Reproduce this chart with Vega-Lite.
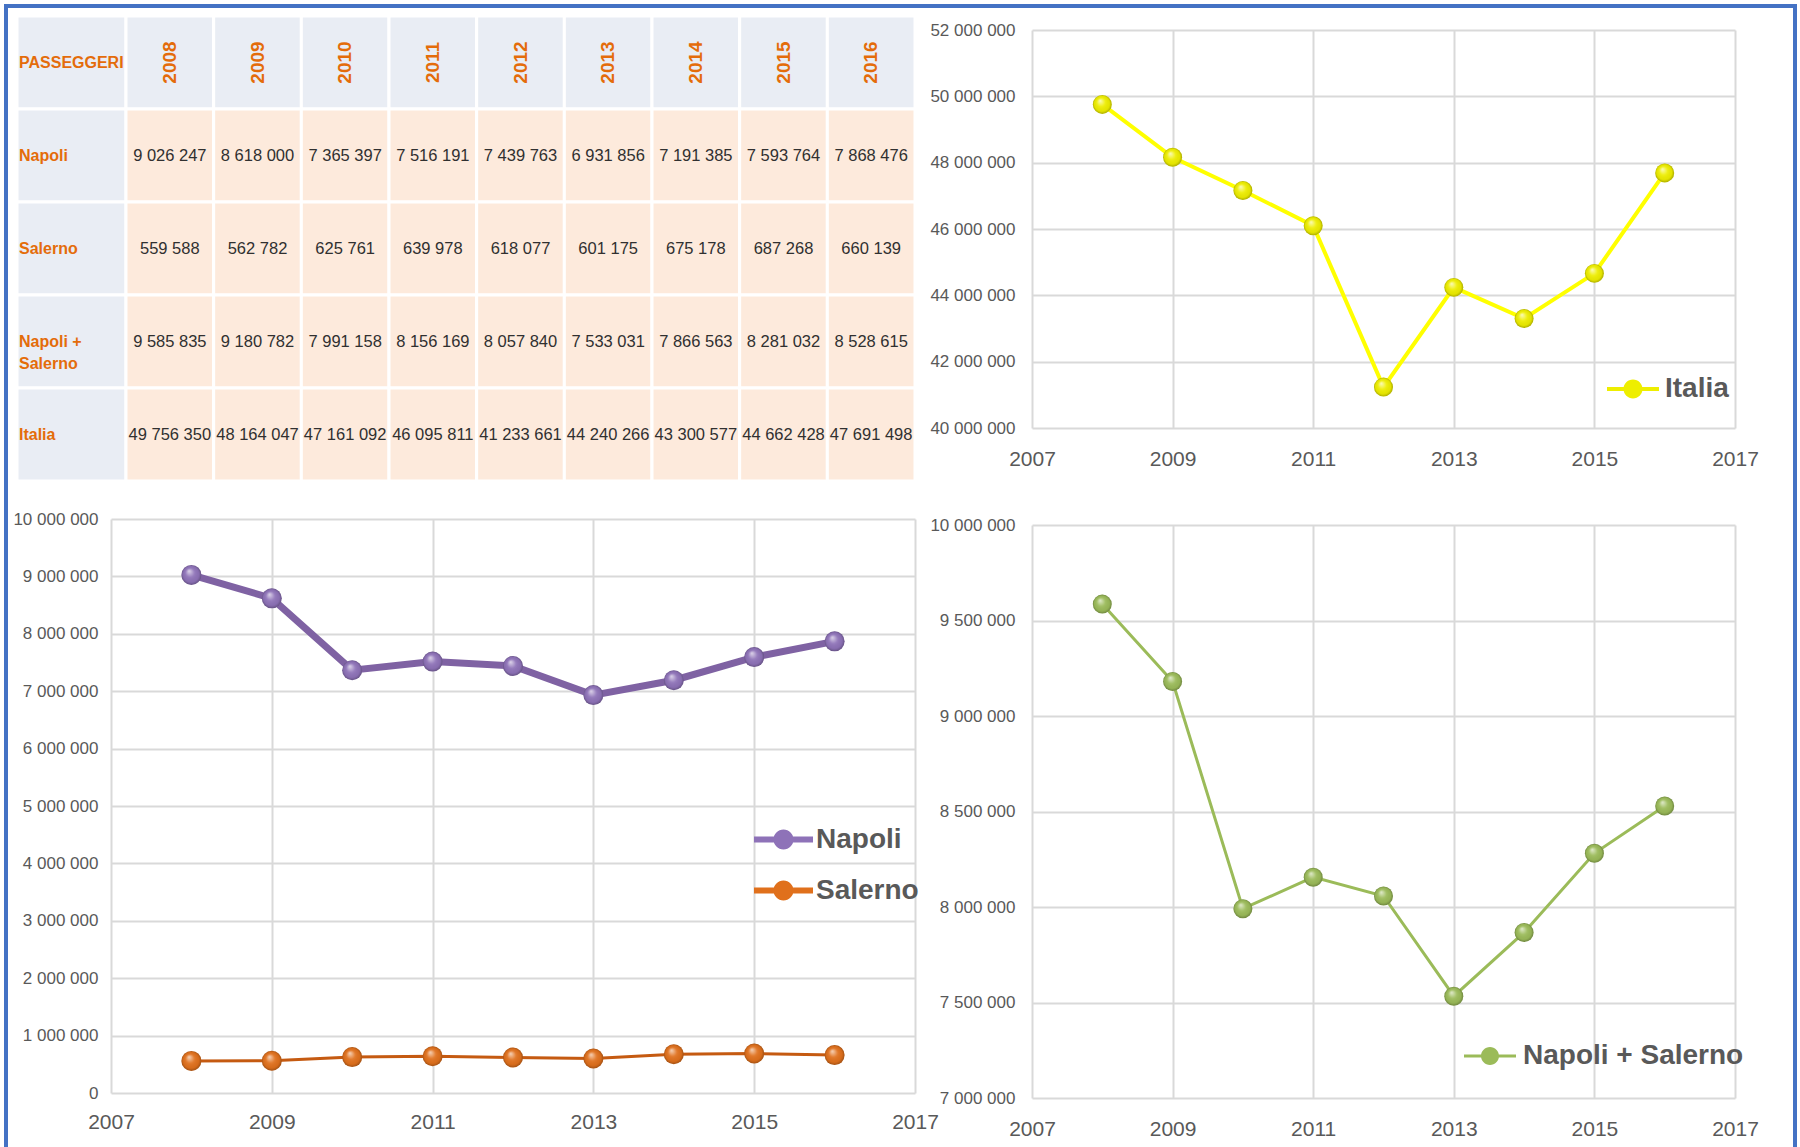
{
  "$schema": "https://vega.github.io/schema/vega-lite/v6.json",
  "width": 1789,
  "height": 1144,
  "autosize": {"type": "none"},
  "padding": {"left": 6, "top": 6, "right": 5, "bottom": 0},
  "background": "white",
  "config": {
    "view": {"stroke": "#4472C4", "strokeWidth": 4},
    "locale": {"number": {"decimal": ",", "thousands": " ", "grouping": [3], "currency": ["", " €"]}},
    "axis": {"labelFont": "Liberation Sans", "labelColor": "#595959", "gridColor": "#D9D9D9", "gridWidth": 2, "domain": false, "ticks": false, "tickSize": 0, "labelFlush": false, "labelOverlap": false},
    "legend": {"padding": 0, "offset": 0, "labelFont": "Liberation Sans", "labelFontWeight": "bold", "labelFontSize": 28, "labelColor": "#595959", "labelLimit": 400}
  },
  "datasets": {
    "passeggeri": [
      {"anno": 2008, "serie": "Napoli", "valore": 9026247},
      {"anno": 2009, "serie": "Napoli", "valore": 8618000},
      {"anno": 2010, "serie": "Napoli", "valore": 7365397},
      {"anno": 2011, "serie": "Napoli", "valore": 7516191},
      {"anno": 2012, "serie": "Napoli", "valore": 7439763},
      {"anno": 2013, "serie": "Napoli", "valore": 6931856},
      {"anno": 2014, "serie": "Napoli", "valore": 7191385},
      {"anno": 2015, "serie": "Napoli", "valore": 7593764},
      {"anno": 2016, "serie": "Napoli", "valore": 7868476},
      {"anno": 2008, "serie": "Salerno", "valore": 559588},
      {"anno": 2009, "serie": "Salerno", "valore": 562782},
      {"anno": 2010, "serie": "Salerno", "valore": 625761},
      {"anno": 2011, "serie": "Salerno", "valore": 639978},
      {"anno": 2012, "serie": "Salerno", "valore": 618077},
      {"anno": 2013, "serie": "Salerno", "valore": 601175},
      {"anno": 2014, "serie": "Salerno", "valore": 675178},
      {"anno": 2015, "serie": "Salerno", "valore": 687268},
      {"anno": 2016, "serie": "Salerno", "valore": 660139},
      {"anno": 2008, "serie": "Napoli + Salerno", "valore": 9585835},
      {"anno": 2009, "serie": "Napoli + Salerno", "valore": 9180782},
      {"anno": 2010, "serie": "Napoli + Salerno", "valore": 7991158},
      {"anno": 2011, "serie": "Napoli + Salerno", "valore": 8156169},
      {"anno": 2012, "serie": "Napoli + Salerno", "valore": 8057840},
      {"anno": 2013, "serie": "Napoli + Salerno", "valore": 7533031},
      {"anno": 2014, "serie": "Napoli + Salerno", "valore": 7866563},
      {"anno": 2015, "serie": "Napoli + Salerno", "valore": 8281032},
      {"anno": 2016, "serie": "Napoli + Salerno", "valore": 8528615},
      {"anno": 2008, "serie": "Italia", "valore": 49756350},
      {"anno": 2009, "serie": "Italia", "valore": 48164047},
      {"anno": 2010, "serie": "Italia", "valore": 47161092},
      {"anno": 2011, "serie": "Italia", "valore": 46095811},
      {"anno": 2012, "serie": "Italia", "valore": 41233661},
      {"anno": 2013, "serie": "Italia", "valore": 44240266},
      {"anno": 2014, "serie": "Italia", "valore": 43300577},
      {"anno": 2015, "serie": "Italia", "valore": 44662428},
      {"anno": 2016, "serie": "Italia", "valore": 47691498}
    ],
    "righe": [
      {"riga": "PASSEGGERI", "testo": "PASSEGGERI"},
      {"riga": "Napoli", "testo": "Napoli"},
      {"riga": "Salerno", "testo": "Salerno"},
      {"riga": "Napoli + Salerno", "testo": "Napoli +\nSalerno"},
      {"riga": "Italia", "testo": "Italia"}
    ]
  },
  "layer": [
    {
      "layer": [
        {
          "data": {"name": "righe"},
          "layer": [
            {
              "mark": {"type": "rect", "fill": "#E9EDF4", "stroke": "white", "strokeWidth": 3},
              "encoding": {
                "x": {"datum": "etichette", "type": "nominal", "scale": {"type": "band", "domain": ["etichette"], "range": [11, 120], "paddingInner": 0, "paddingOuter": 0}, "axis": null},
                "y": {"field": "riga", "type": "nominal", "scale": {"type": "band", "domain": ["PASSEGGERI", "Napoli", "Salerno", "Napoli + Salerno", "Italia"], "range": [10, 475], "paddingInner": 0, "paddingOuter": 0}, "axis": null}
              }
            },
            {
              "mark": {"type": "text", "align": "left", "dx": 2, "font": "Liberation Sans", "fontWeight": "bold", "fontSize": 16, "color": "#E46C0A", "lineBreak": "\n", "lineHeight": 22},
              "encoding": {
                "x": {"datum": "etichette", "type": "nominal", "bandPosition": 0, "axis": null},
                "y": {"field": "riga", "type": "nominal", "axis": null},
                "text": {"field": "testo", "type": "nominal"}
              }
            }
          ]
        },
        {
          "data": {"name": "passeggeri"},
          "layer": [
            {
              "transform": [{"filter": "datum.serie === 'Napoli'"}],
              "mark": {"type": "rect", "fill": "#E9EDF4", "stroke": "white", "strokeWidth": 3},
              "encoding": {
                "x": {"field": "anno", "type": "ordinal", "scale": {"type": "band", "range": [120, 909], "paddingInner": 0, "paddingOuter": 0}, "axis": null},
                "y": {"datum": "PASSEGGERI", "type": "nominal", "axis": null}
              }
            },
            {
              "transform": [{"filter": "datum.serie === 'Napoli'"}],
              "mark": {"type": "text", "angle": 270, "font": "Liberation Sans", "fontWeight": "bold", "fontSize": 19, "color": "#E46C0A", "align": "center", "baseline": "middle"},
              "encoding": {
                "x": {"field": "anno", "type": "ordinal", "axis": null},
                "y": {"datum": "PASSEGGERI", "type": "nominal", "axis": null},
                "text": {"field": "anno", "type": "nominal"}
              }
            },
            {
              "mark": {"type": "rect", "fill": "#FDEADC", "stroke": "white", "strokeWidth": 3},
              "encoding": {
                "x": {"field": "anno", "type": "ordinal", "axis": null},
                "y": {"field": "serie", "type": "nominal", "axis": null}
              }
            },
            {
              "mark": {"type": "text", "font": "Liberation Sans", "fontSize": 16.5, "color": "#303030", "align": "center", "baseline": "middle"},
              "encoding": {
                "x": {"field": "anno", "type": "ordinal", "axis": null},
                "y": {"field": "serie", "type": "nominal", "axis": null},
                "text": {"field": "valore", "type": "quantitative", "format": ",d"}
              }
            }
          ]
        }
      ],
      "resolve": {"scale": {"x": "independent"}, "axis": {"x": "independent"}}
    },
    {
      "data": {"name": "passeggeri"},
      "transform": [{"filter": "datum.serie === 'Italia'"}],
      "encoding": {
        "x": {"field": "anno", "type": "quantitative", "scale": {"domain": [2007, 2017], "range": [1026, 1729], "nice": false, "zero": false},
              "axis": {"orient": "top", "offset": -422, "values": [2007, 2009, 2011, 2013, 2015, 2017], "format": "d", "labelPadding": -31, "labelBaseline": "middle", "labelFontSize": 21, "grid": true, "title": null}},
        "y": {"field": "valore", "type": "quantitative", "scale": {"domain": [40000000, 52000000], "range": [422, 24], "nice": false, "zero": false},
              "axis": {"orient": "left", "offset": -1026, "values": [40000000, 42000000, 44000000, 46000000, 48000000, 50000000, 52000000], "format": ",d", "labelPadding": 17, "labelFontSize": 17, "grid": true, "title": null}}
      },
      "layer": [
        {"mark": {"type": "line", "color": "#FFFF00", "strokeWidth": 4}},
        {
          "mark": {"type": "point", "filled": true, "size": 360, "opacity": 1},
          "encoding": {
            "color": {"field": "serie", "type": "nominal", "scale": {"domain": ["Italia"], "range": ["#EEEE00"]},
                      "legend": {"orient": "none", "legendX": 1600, "legendY": 356, "title": null, "symbolSize": 2704, "labelOffset": 5,
                                 "symbolType": "M-1,-0.077L1,-0.077L1,0.077L-1,0.077Z M-0.365,0A0.365,0.365,0,1,1,0.365,0A0.365,0.365,0,1,1,-0.365,0Z"}}
          }
        },
        {"mark": {"type": "point", "filled": true, "size": 360, "opacity": 1, "fill": {"gradient": "radial", "x1": 0.38, "y1": 0.3, "r1": 0, "x2": 0.5, "y2": 0.5, "r2": 0.5, "stops": [{"offset": 0, "color": "rgba(255,255,255,0.75)"}, {"offset": 0.45, "color": "rgba(255,255,255,0.08)"}, {"offset": 0.8, "color": "rgba(0,0,0,0.04)"}, {"offset": 1, "color": "rgba(0,0,0,0.28)"}]}}}
      ]
    },
    {
      "data": {"name": "passeggeri"},
      "transform": [{"filter": {"field": "serie", "oneOf": ["Napoli", "Salerno"]}}],
      "encoding": {
        "x": {"field": "anno", "type": "quantitative", "scale": {"domain": [2007, 2017], "range": [105, 909], "nice": false, "zero": false},
              "axis": {"orient": "top", "offset": -1087, "values": [2007, 2009, 2011, 2013, 2015, 2017], "format": "d", "labelPadding": -29, "labelBaseline": "middle", "labelFontSize": 21, "grid": true, "title": null}},
        "y": {"field": "valore", "type": "quantitative", "scale": {"domain": [0, 10000000], "range": [1087, 513], "nice": false, "zero": false},
              "axis": {"orient": "left", "offset": -105, "values": [0, 1000000, 2000000, 3000000, 4000000, 5000000, 6000000, 7000000, 8000000, 9000000, 10000000], "format": ",d", "labelPadding": 13, "labelFontSize": 17, "grid": true, "title": null}}
      },
      "layer": [
        {"transform": [{"filter": "datum.serie === 'Napoli'"}], "mark": {"type": "line", "color": "#7F62A3", "strokeWidth": 7}},
        {"transform": [{"filter": "datum.serie === 'Salerno'"}], "mark": {"type": "line", "color": "#C55A11", "strokeWidth": 3}},
        {
          "mark": {"type": "point", "filled": true, "size": 400, "opacity": 1},
          "encoding": {
            "color": {"field": "serie", "type": "nominal", "scale": {"domain": ["Napoli", "Salerno"], "range": ["#8E72B8", "#E0701C"]},
                      "legend": {"orient": "none", "legendX": 747, "legendY": 803, "title": null, "symbolSize": 3481, "labelOffset": 2, "rowPadding": 6,
                                 "symbolType": "M-1,-0.1L1,-0.1L1,0.1L-1,0.1Z M-0.339,0A0.339,0.339,0,1,1,0.339,0A0.339,0.339,0,1,1,-0.339,0Z",
                                 "encode": {"symbols": {"shape": {"signal": "datum.value === 'Napoli' ? 'M-1,-0.13L1,-0.13L1,0.13L-1,0.13Z M-0.345,0A0.345,0.345,0,1,1,0.345,0A0.345,0.345,0,1,1,-0.345,0Z' : 'M-0.92,-0.05L0.92,-0.05L0.92,0.05L-0.92,0.05Z M-0.33,0A0.33,0.33,0,1,1,0.33,0A0.33,0.33,0,1,1,-0.33,0Z'"}}}}}
          }
        },
        {"mark": {"type": "point", "filled": true, "size": 400, "opacity": 1, "fill": {"gradient": "radial", "x1": 0.38, "y1": 0.3, "r1": 0, "x2": 0.5, "y2": 0.5, "r2": 0.5, "stops": [{"offset": 0, "color": "rgba(255,255,255,0.7)"}, {"offset": 0.45, "color": "rgba(255,255,255,0.08)"}, {"offset": 0.8, "color": "rgba(0,0,0,0.04)"}, {"offset": 1, "color": "rgba(0,0,0,0.28)"}]}}}
      ]
    },
    {
      "data": {"name": "passeggeri"},
      "transform": [{"filter": "datum.serie === 'Napoli + Salerno'"}],
      "encoding": {
        "x": {"field": "anno", "type": "quantitative", "scale": {"domain": [2007, 2017], "range": [1026, 1729], "nice": false, "zero": false},
              "axis": {"orient": "top", "offset": -1092, "values": [2007, 2009, 2011, 2013, 2015, 2017], "format": "d", "labelPadding": -31, "labelBaseline": "middle", "labelFontSize": 21, "grid": true, "title": null}},
        "y": {"field": "valore", "type": "quantitative", "scale": {"domain": [7000000, 10000000], "range": [1092, 519], "nice": false, "zero": false},
              "axis": {"orient": "left", "offset": -1026, "values": [7000000, 7500000, 8000000, 8500000, 9000000, 9500000, 10000000], "format": ",d", "labelPadding": 17, "labelFontSize": 17, "grid": true, "title": null}}
      },
      "layer": [
        {"mark": {"type": "line", "color": "#9BBB59", "strokeWidth": 3}},
        {
          "mark": {"type": "point", "filled": true, "size": 360, "opacity": 1},
          "encoding": {
            "color": {"field": "serie", "type": "nominal", "scale": {"domain": ["Napoli + Salerno"], "range": ["#9BBB59"]},
                      "legend": {"orient": "none", "legendX": 1457, "legendY": 1023, "title": null, "symbolSize": 2704, "labelOffset": 6,
                                 "symbolType": "M-1,-0.058L1,-0.058L1,0.058L-1,0.058Z M-0.346,0A0.346,0.346,0,1,1,0.346,0A0.346,0.346,0,1,1,-0.346,0Z"}}
          }
        },
        {"mark": {"type": "point", "filled": true, "size": 360, "opacity": 1, "fill": {"gradient": "radial", "x1": 0.38, "y1": 0.3, "r1": 0, "x2": 0.5, "y2": 0.5, "r2": 0.5, "stops": [{"offset": 0, "color": "rgba(255,255,255,0.7)"}, {"offset": 0.45, "color": "rgba(255,255,255,0.08)"}, {"offset": 0.8, "color": "rgba(0,0,0,0.04)"}, {"offset": 1, "color": "rgba(0,0,0,0.28)"}]}}}
      ]
    }
  ],
  "resolve": {
    "scale": {"x": "independent", "y": "independent", "color": "independent"},
    "axis": {"x": "independent", "y": "independent"},
    "legend": {"color": "independent"}
  }
}
